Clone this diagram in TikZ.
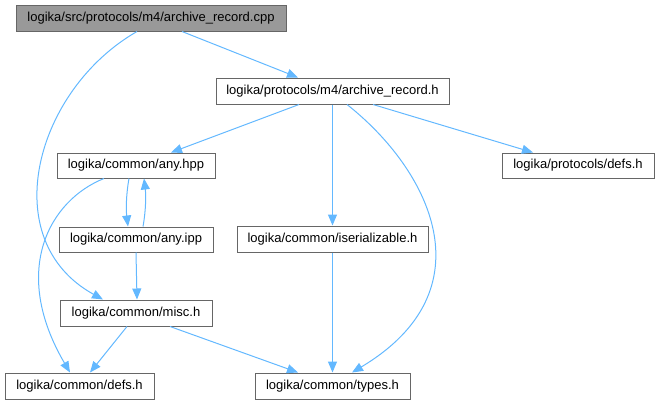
\documentclass[tikz,border=0pt]{standalone}
\usepackage{fontspec}
\setmainfont{Liberation Sans}
\usepackage{tikz}
\usetikzlibrary{arrows.meta}
\definecolor{DoxEdge}{RGB}{99,184,255}
\definecolor{DoxBorder}{RGB}{102,102,102}
\definecolor{DoxRoot}{RGB}{153,153,153}

\begin{document}
\begin{tikzpicture}[x=1pt, y=-1pt,
    hdr/.style={rectangle, draw=DoxBorder, fill=white, line width=1pt,
                inner sep=0pt, minimum height=26pt,
                font=\fontsize{13}{15}\selectfont},
    arr/.style={-{Triangle[length=11pt, width=9pt]}, DoxEdge, line width=1pt}
  ]
  \useasboundingbox (0,0) rectangle (659,405);

  % source file
  \node[hdr, fill=DoxRoot, minimum width=270pt] (cpp) at (151,18)
        {logika/src/protocols/m4/archive\_record.cpp};

  % headers
  \node[hdr, minimum width=233pt] (arh)    at (332.5,91)  {logika/protocols/m4/archive\_record.h};
  \node[hdr, minimum width=152pt, minimum height=25pt] (pdefs) at (578,165.5) {logika/protocols/defs.h};
  \node[hdr, minimum width=158pt, minimum height=25pt] (anyhpp) at (136,165.5) {logika/common/any.hpp};
  \node[hdr, minimum width=154pt, minimum height=25pt] (anyipp) at (136,239.5) {logika/common/any.ipp};
  \node[hdr, minimum width=191pt] (iser)   at (332.5,239) {logika/common/iserializable.h};
  \node[hdr, minimum width=152pt] (misc)   at (136,313)   {logika/common/misc.h};
  \node[hdr, minimum width=149pt] (defs)   at (79.5,386)  {logika/common/defs.h};
  \node[hdr, minimum width=155pt] (types)  at (332.5,386) {logika/common/types.h};

  % includes
  \draw[arr] ([xshift=31pt]cpp.south) -- ([xshift=-34.5pt]arh.north);
  \draw[arr] ([xshift=-14pt]cpp.south) .. controls (35,90) and (-5,240)
             .. ([xshift=-33pt]misc.north);
  \draw[arr] ([xshift=-33.5pt]arh.south) -- ([xshift=35pt]anyhpp.north);
  \draw[arr] (arh.south) -- (iser.north);
  \draw[arr] ([xshift=14.5pt]arh.south) .. controls (430,170) and (490,290)
             .. ([xshift=19.5pt]types.north);
  \draw[arr] ([xshift=40.5pt]arh.south) -- ([xshift=-45pt]pdefs.north);
  \draw[arr] ([xshift=-7pt]anyhpp.south) .. controls (126,195) and (126,210)
             .. ([xshift=-8pt]anyipp.north);
  \draw[arr] ([xshift=7pt]anyipp.north) .. controls (146,210) and (146,195)
             .. ([xshift=8pt]anyhpp.south);
  \draw[arr] ([xshift=-32pt]anyhpp.south) .. controls (50,200) and (10,270)
             .. ([xshift=-9.5pt]defs.north);
  \draw[arr] (anyipp.south) -- ([xshift=1pt]misc.north);
  \draw[arr] ([xshift=-9pt]misc.south) -- ([xshift=10.5pt]defs.north);
  \draw[arr] ([xshift=34pt]misc.south) -- ([xshift=-34.5pt]types.north);
  \draw[arr] (iser.south) -- (types.north);
\end{tikzpicture}
\end{document}
